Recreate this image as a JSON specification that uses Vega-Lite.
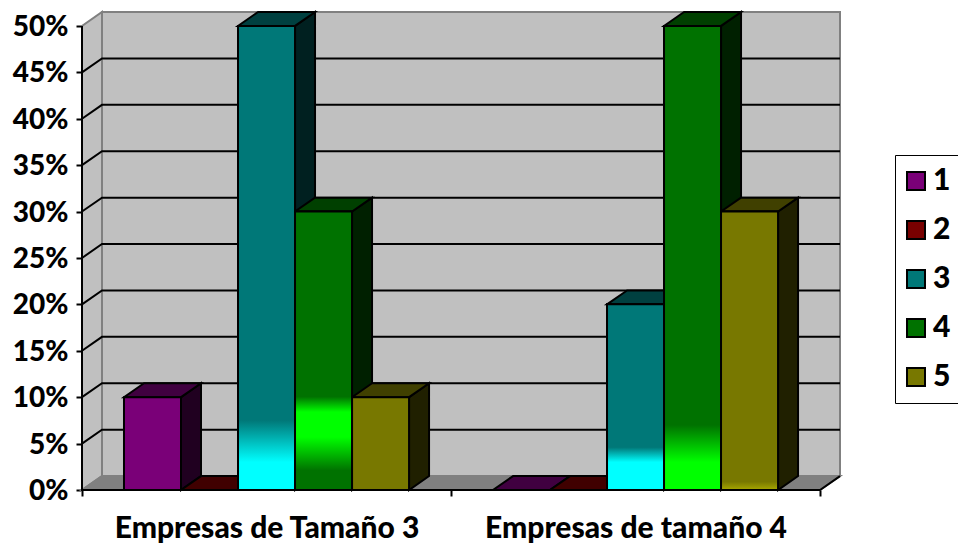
{
  "$schema": "https://vega.github.io/schema/vega-lite/v6.json",
  "autosize": "none",
  "width": 758,
  "height": 478,
  "padding": {"left": 82, "top": 12, "right": 118, "bottom": 54},
  "background": "white",
  "config": {"view": {"stroke": null}},
  "datasets": {
    "barras": [
      {"empresa": "Empresas de Tamaño 3", "serie": 1, "valor": 0.1},
      {"empresa": "Empresas de Tamaño 3", "serie": 2, "valor": 0},
      {"empresa": "Empresas de Tamaño 3", "serie": 3, "valor": 0.5},
      {"empresa": "Empresas de Tamaño 3", "serie": 4, "valor": 0.3},
      {"empresa": "Empresas de Tamaño 3", "serie": 5, "valor": 0.1},
      {"empresa": "Empresas de tamaño 4", "serie": 1, "valor": 0},
      {"empresa": "Empresas de tamaño 4", "serie": 2, "valor": 0},
      {"empresa": "Empresas de tamaño 4", "serie": 3, "valor": 0.2},
      {"empresa": "Empresas de tamaño 4", "serie": 4, "valor": 0.5},
      {"empresa": "Empresas de tamaño 4", "serie": 5, "valor": 0.3}
    ]
  },
  "encoding": {
    "x": {
      "field": "x",
      "type": "quantitative",
      "title": null,
      "scale": {"domain": [0, 2.0542], "nice": false, "zero": false},
      "axis": {
        "values": [0, 0.5, 1, 1.5, 2],
        "grid": false,
        "domain": false,
        "tickColor": "black",
        "tickWidth": 2,
        "tickSize": 6,
        "tickOpacity": {"condition": {"test": "datum.value % 1 === 0", "value": 1}, "value": 0},
        "labelExpr": "datum.value === 0.5 ? 'Empresas de Tamaño 3' : datum.value === 1.5 ? 'Empresas de tamaño 4' : ''",
        "labelFont": "Lato",
        "labelFontWeight": 900,
        "labelFontSize": 30,
        "labelColor": "black",
        "labelPadding": 17,
        "labelOverlap": false,
        "labelFlush": false,
        "labelBound": false,
        "labelAngle": 0,
        "labelLimit": 400
      }
    },
    "y": {
      "field": "y",
      "type": "quantitative",
      "title": null,
      "scale": {"domain": [0, 0.515], "nice": false, "zero": false},
      "axis": {
        "values": [0, 0.05, 0.1, 0.15, 0.2, 0.25, 0.3, 0.35, 0.4, 0.45, 0.5],
        "format": ".0%",
        "grid": false,
        "domain": false,
        "tickColor": "black",
        "tickWidth": 2,
        "tickSize": 6,
        "labelFont": "Lato",
        "labelFontWeight": 900,
        "labelFontSize": 28,
        "labelColor": "black",
        "labelPadding": 8,
        "labelOffset": 1.5,
        "labelOverlap": false,
        "labelFlush": false,
        "labelBound": false
      }
    }
  },
  "layer": [
    {
      "description": "back wall of the 3D box",
      "data": {"values": [{"x": 0.0542, "x2": 2.0542, "y": 0.015, "y2": 0.515}]},
      "mark": {"type": "rect", "fill": "#c0c0c0", "stroke": "#808080", "strokeWidth": 2},
      "encoding": {"x2": {"field": "x2"}, "y2": {"field": "y2"}}
    },
    {
      "description": "left wall",
      "data": {"values": [{"x": 0, "y": 0, "y2": 0.5}, {"x": 0.0542, "y": 0.015, "y2": 0.515}]},
      "mark": {"type": "area", "orient": "vertical", "fill": "#c0c0c0", "stroke": "#808080", "strokeWidth": 2},
      "encoding": {"y2": {"field": "y2"}}
    },
    {
      "description": "floor",
      "data": {"values": [{"y": 0, "x": 0, "x2": 2}, {"y": 0.015, "x": 0.0542, "x2": 2.0542}]},
      "mark": {"type": "area", "orient": "horizontal", "fill": "#808080", "stroke": "#808080", "strokeWidth": 2},
      "encoding": {"x2": {"field": "x2"}}
    },
    {
      "description": "gridlines running across the left wall and the back wall",
      "data": {"values": [{"nivel": 0.05}, {"nivel": 0.1}, {"nivel": 0.15}, {"nivel": 0.2}, {"nivel": 0.25}, {"nivel": 0.3}, {"nivel": 0.35}, {"nivel": 0.4}, {"nivel": 0.45}]},
      "transform": [
        {"calculate": "[0, 0.0542, 2.0542]", "as": "x"},
        {"calculate": "[datum.nivel, datum.nivel + 0.015, datum.nivel + 0.015]", "as": "y"},
        {"flatten": ["x", "y"]}
      ],
      "mark": {"type": "line", "stroke": "black", "strokeWidth": 2},
      "encoding": {"detail": {"field": "nivel", "type": "nominal"}}
    },
    {
      "description": "axis lines along the front of the box",
      "data": {"values": [{"x": 0, "y": 0.5, "paso": 0}, {"x": 0, "y": 0, "paso": 1}, {"x": 2, "y": 0, "paso": 2}, {"x": 2.0542, "y": 0.015, "paso": 3}]},
      "mark": {"type": "line", "stroke": "black", "strokeWidth": 2},
      "encoding": {"order": {"field": "paso", "type": "quantitative"}}
    },
    {
      "description": "the bars: side faces, top faces, then front faces",
      "data": {"name": "barras"},
      "transform": [
        {"calculate": "indexof(['Empresas de Tamaño 3', 'Empresas de tamaño 4'], datum.empresa) + 0.1138 + (datum.serie - 1) * 0.1545", "as": "xi"},
        {"calculate": "datum.xi + 0.1545", "as": "xd"}
      ],
      "layer": [
        {
          "transform": [
            {"calculate": "[0, 1]", "as": "t"},
            {"flatten": ["t"]},
            {"calculate": "datum.xd + datum.t * 0.0542", "as": "x"},
            {"calculate": "datum.valor + datum.t * 0.015", "as": "y"},
            {"calculate": "datum.t * 0.015", "as": "y2"},
            {"calculate": "['#200020', '#200000', '#002020', '#002000', '#202000'][datum.serie - 1]", "as": "tono"}
          ],
          "mark": {"type": "area", "orient": "vertical", "stroke": "black", "strokeWidth": 2},
          "encoding": {
            "y2": {"field": "y2"},
            "fill": {"field": "tono", "type": "nominal", "scale": null},
            "detail": [{"field": "empresa", "type": "nominal"}, {"field": "serie", "type": "nominal"}]
          }
        },
        {
          "transform": [
            {"calculate": "[0, 1]", "as": "t"},
            {"flatten": ["t"]},
            {"calculate": "datum.xi + datum.t * 0.0542", "as": "x"},
            {"calculate": "datum.xd + datum.t * 0.0542", "as": "x2"},
            {"calculate": "datum.valor + datum.t * 0.015", "as": "y"},
            {"calculate": "['#400040', '#400000', '#004040', '#004000', '#404000'][datum.serie - 1]", "as": "tono"}
          ],
          "mark": {"type": "area", "orient": "horizontal", "stroke": "black", "strokeWidth": 2},
          "encoding": {
            "x2": {"field": "x2"},
            "fill": {"field": "tono", "type": "nominal", "scale": null},
            "detail": [{"field": "empresa", "type": "nominal"}, {"field": "serie", "type": "nominal"}]
          }
        },
        {
          "transform": [
            {"calculate": "datum.xi", "as": "x"},
            {"calculate": "datum.xd", "as": "x2"},
            {"calculate": "datum.valor", "as": "y"},
            {"calculate": "0", "as": "y2"}
          ],
          "layer": [
            {
              "mark": {"type": "bar", "stroke": "black", "strokeWidth": 2},
              "encoding": {
                "x2": {"field": "x2"},
                "y2": {"field": "y2"},
                "fill": {
                  "field": "serie",
                  "type": "nominal",
                  "scale": {"domain": [1, 2, 3, 4, 5], "range": ["#7a0078", "#780000", "#007878", "#007200", "#787800"]},
                  "legend": {
                    "title": null,
                    "orient": "none",
                    "legendX": 813,
                    "legendY": 143,
                    "fillColor": "white",
                    "strokeColor": "black",
                    "encoding": {"legend": {"update": {"strokeWidth": {"value": 2}}}},
                    "padding": 11,
                    "symbolType": "square",
                    "symbolSize": 324,
                    "symbolOffset": -5,
                    "symbolStrokeColor": "black",
                    "symbolStrokeWidth": 2,
                    "labelFont": "Lato",
                    "labelFontWeight": 900,
                    "labelFontSize": 30,
                    "labelColor": "black",
                    "labelOffset": 2,
                    "rowPadding": 19
                  }
                }
              }
            },
            {
              "transform": [{"filter": "datum.serie === 3 && datum.valor === 0.5"}],
              "mark": {"type": "bar", "stroke": "black", "strokeWidth": 2, "fill": {"gradient": "linear", "x1": 0, "y1": 0, "x2": 0, "y2": 1, "stops": [{"offset": 0, "color": "#007878"}, {"offset": 0.85, "color": "#007878"}, {"offset": 0.94, "color": "#00ffff"}, {"offset": 1, "color": "#00ffff"}]}},
              "encoding": {"x2": {"field": "x2"}, "y2": {"field": "y2"}}
            },
            {
              "transform": [{"filter": "datum.serie === 4 && datum.valor === 0.3"}],
              "mark": {"type": "bar", "stroke": "black", "strokeWidth": 2, "fill": {"gradient": "linear", "x1": 0, "y1": 0, "x2": 0, "y2": 1, "stops": [{"offset": 0, "color": "#007200"}, {"offset": 0.665, "color": "#007200"}, {"offset": 0.72, "color": "#00ff00"}, {"offset": 0.81, "color": "#00ff00"}, {"offset": 0.93, "color": "#007200"}, {"offset": 1, "color": "#007200"}]}},
              "encoding": {"x2": {"field": "x2"}, "y2": {"field": "y2"}}
            },
            {
              "transform": [{"filter": "datum.serie === 3 && datum.valor === 0.2"}],
              "mark": {"type": "bar", "stroke": "black", "strokeWidth": 2, "fill": {"gradient": "linear", "x1": 0, "y1": 0, "x2": 0, "y2": 1, "stops": [{"offset": 0, "color": "#007878"}, {"offset": 0.77, "color": "#007878"}, {"offset": 0.85, "color": "#00ffff"}, {"offset": 1, "color": "#00ffff"}]}},
              "encoding": {"x2": {"field": "x2"}, "y2": {"field": "y2"}}
            },
            {
              "transform": [{"filter": "datum.serie === 4 && datum.valor === 0.5"}],
              "mark": {"type": "bar", "stroke": "black", "strokeWidth": 2, "fill": {"gradient": "linear", "x1": 0, "y1": 0, "x2": 0, "y2": 1, "stops": [{"offset": 0, "color": "#007200"}, {"offset": 0.86, "color": "#007200"}, {"offset": 0.94, "color": "#00ff00"}, {"offset": 1, "color": "#00ff00"}]}},
              "encoding": {"x2": {"field": "x2"}, "y2": {"field": "y2"}}
            },
            {
              "transform": [{"filter": "datum.serie === 5 && datum.valor === 0.3"}],
              "mark": {"type": "bar", "stroke": "black", "strokeWidth": 2, "fill": {"gradient": "linear", "x1": 0, "y1": 0, "x2": 0, "y2": 1, "stops": [{"offset": 0, "color": "#787800"}, {"offset": 0.97, "color": "#787800"}, {"offset": 1, "color": "#a8a800"}]}},
              "encoding": {"x2": {"field": "x2"}, "y2": {"field": "y2"}}
            }
          ]
        }
      ]
    }
  ]
}
